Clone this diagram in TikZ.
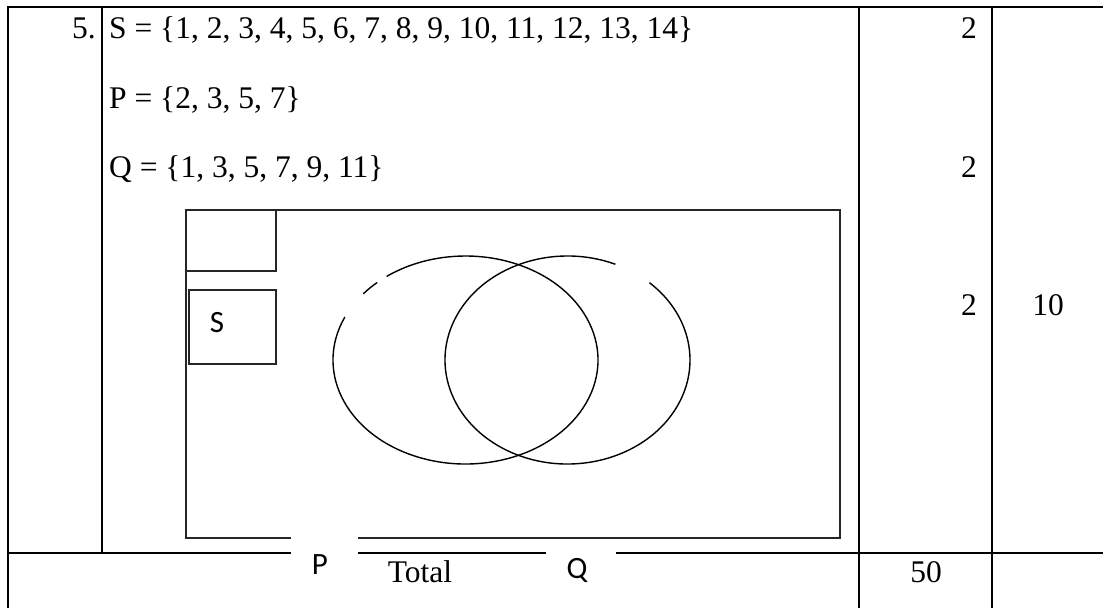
\documentclass[tikz,border=0pt]{standalone}
\usepackage{fontspec}
\setmainfont{Liberation Serif}
\newfontfamily\calibri{Carlito}
\begin{document}
\begin{tikzpicture}[x=1pt, y=1pt, line join=miter,
    every node/.style={inner sep=0pt, font=\fontsize{31.5}{36}\selectfont},
    tabla/.style={line width=2.3pt},
    marco/.style={line width=1.4pt, black!85},
    curva/.style={line width=1.4pt},
    rotulo/.style={font=\calibri\fontsize{31}{36}\selectfont}]
  \useasboundingbox (0,0) rectangle (1103,-608);
  % tabla: columnas en x = 8, 102, 859, 992
  \draw[tabla] (7,-7) -- (1103,-7);
  \draw[tabla] (8,-7) -- (8,-608);
  \draw[tabla] (102,-7) -- (102,-553);
  \draw[tabla] (859,-7) -- (859,-608);
  \draw[tabla] (992,-7) -- (992,-608);
  \draw[tabla] (8,-553) -- (1103,-553);
  % texto de la pregunta
  \node[anchor=base east] (num) at (96,-38) {5.};
  \node[anchor=base west] (setS) at (109,-38) {S = \{1, 2, 3, 4, 5, 6, 7, 8, 9, 10, 11, 12, 13, 14\}};
  \node[anchor=base west] (setP) at (109,-108) {P = \{2, 3, 5, 7\}};
  \node[anchor=base west] (setQ) at (109,-177) {Q = \{1, 3, 5, 7, 9, 11\}};
  % puntos
  \node[anchor=base east] (m1) at (977,-38) {2};
  \node[anchor=base east] (m2) at (977,-177) {2};
  \node[anchor=base east] (m3) at (977,-315) {2};
  \node[anchor=base] (tot) at (1048,-315) {10};
  % diagrama: rectangulo S de (186,210) a (840,538)
  \draw[marco] (186,-210) rectangle (840,-538);
  \draw[marco] (186,-210) rectangle (276,-271);
  \draw[marco] (189,-290) rectangle (276,-364);
  \node[rotulo, anchor=base] (lblS) at (217,-332) {S};
  % circulos P y Q
  \coordinate (cP) at (465.5,-360);
  \coordinate (cQ) at (567.5,-360);
  \draw[curva] ([shift={(155.6:132.5 and 104)}]cP) arc[start angle=155.6, end angle=486.5, x radius=132.5, y radius=104];
  \draw[curva] ([shift={(131.8:132.5 and 104)}]cP) arc[start angle=131.8, end angle=140.5, x radius=132.5, y radius=104];
  \draw[curva] ([shift={(67:122.5 and 104)}]cQ) arc[start angle=67, end angle=408, x radius=122.5, y radius=104];
  % fila del total
  \node[anchor=base] (total) at (420,-582) {Total};
  \node[anchor=base] (cincuenta) at (926,-582) {50};
  \node[fill=white, minimum width=67pt, minimum height=34pt] (lblP) at (324.5,-553) {};
  \node[fill=white, minimum width=70pt, minimum height=12pt] (lblQ) at (581,-553) {};
  \node[rotulo, anchor=base] (txtP) at (320,-574) {P};
  \node[rotulo, anchor=base] (txtQ) at (577,-578) {Q};
\end{tikzpicture}
\end{document}
